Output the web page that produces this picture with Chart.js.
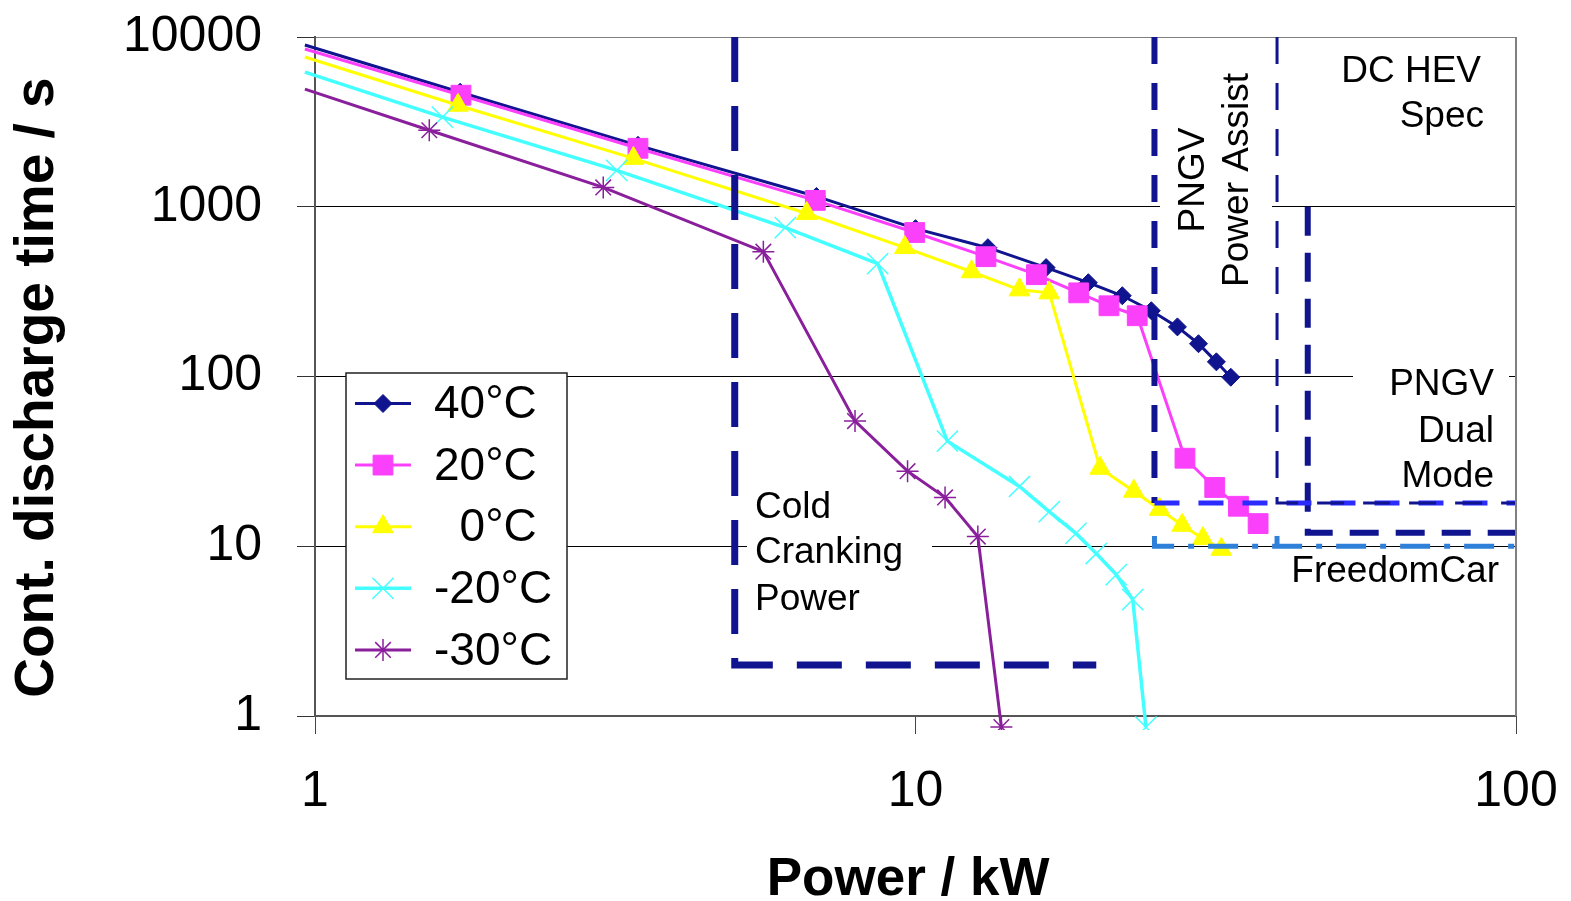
<!DOCTYPE html>
<html><head><meta charset="utf-8">
<script src="https://cdn.jsdelivr.net/npm/chart.js@4.4.1/dist/chart.umd.min.js"></script>
<style>html,body{margin:0;padding:0;background:#fff;overflow:hidden}#wrap{width:1571px;height:901px;position:relative}</style>
</head><body><div id="wrap"><canvas id="c" width="1571" height="901"></canvas></div>
<script>
// ---- data (Power kW, discharge time s) ----
const seriesLabels = ['40°C', '20°C', '  0°C', '-20°C', '-30°C'];
const p40 = [0.962, 1.745, 3.45, 6.84, 10.0, 13.2, 16.5, 19.4, 22.1, 24.7, 27.3, 29.6, 31.7, 33.5];
const t40 = [8970, 4730, 2300, 1150, 743, 574, 438, 357, 299, 244, 196, 156, 122, 99];
const p20 = [0.962, 1.75, 3.45, 6.81, 9.97, 13.1, 15.9, 18.7, 21.0, 23.4, 28.1, 31.5, 34.5, 37.2];
const t20 = [8500, 4540, 2210, 1090, 705, 508, 398, 311, 261, 228, 33, 22.2, 17.2, 13.6];
const p0 = [0.962, 1.73, 3.39, 6.59, 9.6, 12.4, 14.9, 16.7, 20.3, 23.1, 25.5, 27.8, 30.1, 32.3];
const t0 = [7620, 3965, 1928, 912, 575, 414, 324, 311, 28.8, 21.1, 16.5, 13.3, 11.1, 9.6];
const pm20 = [0.962, 1.63, 3.18, 6.07, 8.65, 11.3, 14.9, 16.7, 18.5, 20.0, 21.6, 23.0, 24.2];
const tm20 = [6210, 3370, 1637, 754, 462, 41.6, 22.5, 16.0, 11.9, 9.06, 6.8, 4.85, 0.86];
const pm30 = [0.962, 1.55, 3.02, 5.58, 7.93, 9.7, 11.2, 12.7, 13.9];
const tm30 = [4930, 2823, 1300, 544, 54.6, 27.7, 19.4, 11.4, 0.86];

// ---- specification boundaries ----
const coldCrankP = [5, 5, 20];        const coldCrankT = [10000, 2, 2];
const assistMinP = [25, 25];          const assistMinT = [10000, 18];
const assistTimeP = [25, 100];        const assistTimeT = [18, 18];
const assistMaxP = [40, 40, 100];     const assistMaxT = [10000, 18, 18];
const freedomMinP = [25, 25, 100];    const freedomMinT = [11.5, 10, 10];
const freedomMaxP = [40, 40];         const freedomMaxT = [11.5, 10];
const dualModeP = [45, 45, 100];      const dualModeT = [1000, 12, 12];

// ---- axes ----
const xTicks = [1, 10, 100];
const xTickLabels = ['1', '10', '100'];
const yTicks = [1, 10, 100, 1000, 10000];
const yTickLabels = ['1', '10', '100', '1000', '10000'];

const FONT = "'Liberation Sans', Arial, sans-serif";
const NAVY = '#10148e';
const pts = (xs, ys) => xs.map((x, i) => ({ x, y: ys[i] }));

const seriesStyle = [
  { color: '#10148e', style: 'rectRot', r: 9, bw: 1, lw: 3 },
  { color: '#fb40fb', style: 'rect', r: 14, bw: 1, lw: 3 },
  { color: '#ffff00', style: 'triangle', r: 12, bw: 1, lw: 3 },
  { color: '#44ffff', style: 'crossRot', r: 15, bw: 1.5, lw: 3.5 },
  { color: '#8a1f9c', style: 'star', r: 11, bw: 1.5, lw: 3 }
];
const seriesData = [pts(p40, t40), pts(p20, t20), pts(p0, t0), pts(pm20, tm20), pts(pm30, tm30)];
const clipBox = { left: 12, top: 0, right: 0, bottom: 14 };

const datasets = seriesData.map((d, i) => {
  const s = seriesStyle[i];
  return {
    label: seriesLabels[i], data: d, showLine: true,
    borderColor: s.color, backgroundColor: s.color, borderWidth: s.lw,
    pointStyle: s.style, pointBorderWidth: s.bw, pointBorderColor: s.color, pointBackgroundColor: s.color,
    pointRadius: ctx => (ctx.dataIndex === 0 ? 0 : s.r), pointHoverRadius: s.r,
    order: 10 - i, clip: clipBox, tension: 0
  };
});
function spec(label, xs, ys, color, width, dash) {
  return { label, data: pts(xs, ys), showLine: true, borderColor: color, borderWidth: width,
    borderDash: dash, pointRadius: 0, order: 0, clip: { left: 0, top: 0, right: 6, bottom: 0 },
    borderCapStyle: 'butt', tension: 0 };
}
datasets.push(spec('PNGV max', assistMaxP, assistMaxT, NAVY, 3, [27, 19]));
datasets.push(spec('FreedomCar min', freedomMinP, freedomMinT, '#2f80d8', 5, [30, 14, 6, 14]));
datasets.push(spec('FreedomCar max', freedomMaxP, freedomMaxT, '#2f80d8', 5, [30, 14]));
datasets.push(spec('PNGV time', assistTimeP, assistTimeT, '#2b2bff', 5, [25, 19]));
datasets.push(spec('PNGV min', assistMinP, assistMinT, NAVY, 6, [27, 19]));
datasets.push(spec('Dual mode', dualModeP, dualModeT, NAVY, 6, [29, 17]));
datasets.push(spec('Cold cranking', coldCrankP, coldCrankT, NAVY, 7, [45, 24]));

function fallbackPoint(ctx, o, x, y) {
  const r = o.radius; ctx.beginPath();
  if (o.pointStyle === 'rect') { const s = r * Math.SQRT1_2; ctx.rect(x - s, y - s, 2 * s, 2 * s); ctx.fill(); }
  else if (o.pointStyle === 'rectRot') { ctx.moveTo(x, y - r); ctx.lineTo(x + r, y); ctx.lineTo(x, y + r); ctx.lineTo(x - r, y); ctx.closePath(); ctx.fill(); }
  else if (o.pointStyle === 'triangle') { ctx.moveTo(x, y - r); ctx.lineTo(x + r * 0.866, y + r / 2); ctx.lineTo(x - r * 0.866, y + r / 2); ctx.closePath(); ctx.fill(); }
  else { const a = r * Math.SQRT1_2; ctx.moveTo(x - a, y - a); ctx.lineTo(x + a, y + a); ctx.moveTo(x + a, y - a); ctx.lineTo(x - a, y + a);
    if (o.pointStyle === 'star') { ctx.moveTo(x, y - r); ctx.lineTo(x, y + r); ctx.moveTo(x - r, y); ctx.lineTo(x + r, y); } }
  ctx.stroke();
}

const labelBoxes = [
  [747, 484, 185, 136],   // Cold cranking
  [1160, 50, 112, 250],   // PNGV power assist
  [1353, 362, 156, 150],  // PNGV dual mode
  [1263, 548, 252, 50],   // FreedomCar
  [1330, 45, 160, 100]    // DC HEV
];

const decorPlugin = {
  id: 'decor',
  beforeDatasetsDraw(chart) {
    const c = chart.ctx; c.save(); c.fillStyle = '#fff';
    labelBoxes.forEach(b => c.fillRect(b[0], b[1], b[2], b[3]));
    c.restore();
  },
  afterDatasetsDraw(chart) {
    const c = chart.ctx, a = chart.chartArea;
    c.save();
    c.strokeStyle = '#808080'; c.lineWidth = 2;
    c.beginPath(); c.moveTo(a.right, a.top); c.lineTo(a.right, a.bottom); c.stroke();
    c.fillStyle = '#000'; c.font = '37px ' + FONT; c.textBaseline = 'middle';
    c.textAlign = 'left';
    [['Cold', 508], ['Cranking', 553], ['Power', 600]].forEach(t => c.fillText(t[0], 755, t[1]));
    c.textAlign = 'right';
    c.fillText('DC HEV', 1481, 72); c.fillText('Spec', 1484, 117);
    c.fillText('PNGV', 1494, 385); c.fillText('Dual', 1494, 432); c.fillText('Mode', 1494, 477);
    c.fillText('FreedomCar', 1499, 572);
    c.save(); c.translate(1194, 180); c.rotate(-Math.PI / 2); c.textAlign = 'center';
    c.fillText('PNGV', 0, 0); c.fillText('Power Assist', 0, 44); c.restore();
    const L = { x: 346, y: 373, w: 221, h: 306 };
    c.fillStyle = '#fff'; c.fillRect(L.x, L.y, L.w, L.h);
    c.strokeStyle = '#222'; c.lineWidth = 1.5; c.strokeRect(L.x, L.y, L.w, L.h);
    c.font = '46px ' + FONT; c.textAlign = 'left'; c.textBaseline = 'middle';
    seriesStyle.forEach((s, i) => {
      const y = 403.5 + 61.6 * i;
      c.strokeStyle = s.color; c.lineWidth = s.lw;
      c.beginPath(); c.moveTo(355, y); c.lineTo(411, y); c.stroke();
      c.fillStyle = s.color; c.lineWidth = s.bw;
      const o = { pointStyle: s.style, radius: s.r, rotation: 0, borderWidth: s.bw };
      if (Chart.helpers && Chart.helpers.drawPoint) Chart.helpers.drawPoint(c, o, 383, y); else fallbackPoint(c, o, 383, y);
      c.fillStyle = '#000';
      c.fillText(seriesLabels[i], 434, y + 2);
    });
    c.restore();
  }
};

function zeroPad(ax) { ax.paddingTop = 0; ax.paddingBottom = 0; ax.paddingLeft = 0; ax.paddingRight = 0; }

new Chart(document.getElementById('c'), {
  type: 'scatter',
  data: { datasets },
  options: {
    responsive: false, animation: false, devicePixelRatio: 1,
    layout: { padding: { left: 0, top: 37, right: 55, bottom: 0 } },
    plugins: { legend: { display: false }, tooltip: { enabled: false } },
    scales: {
      x: {
        type: 'logarithmic', min: 1, max: 100,
        afterBuildTicks: ax => { ax.ticks = xTicks.map(v => ({ value: v, major: true })); },
        afterFit: ax => { ax.height = 185; zeroPad(ax); },
        ticks: { callback: v => xTickLabels[xTicks.indexOf(v)], font: { size: 50, family: FONT }, color: '#000', padding: 28, maxRotation: 0, autoSkip: false },
        grid: { drawOnChartArea: false, tickLength: 18, color: '#444', lineWidth: 1 },
        border: { display: true, color: '#555', width: 2 },
        title: { display: true, text: 'Power / kW ', font: { size: 53, weight: 'bold', family: FONT, lineHeight: 0.9 }, color: '#000', padding: { top: 0, bottom: -3 } }
      },
      y: {
        type: 'logarithmic', min: 1, max: 10000,
        afterBuildTicks: ax => { ax.ticks = yTicks.map(v => ({ value: v, major: true })); },
        afterFit: ax => { ax.width = 315; zeroPad(ax); },
        ticks: { callback: v => yTickLabels[yTicks.indexOf(v)], font: { size: 50, family: FONT }, color: '#000', padding: 35, autoSkip: false },
        grid: { color: ctx => (ctx.tick && ctx.tick.value === 10000 ? '#808080' : '#000'), lineWidth: 1, tickLength: 18, tickColor: '#333' },
        border: { display: true, color: '#555', width: 2 },
        title: { display: true, text: 'Cont. discharge time / s\u2009\u2009', font: { size: 55, weight: 'bold', family: FONT, lineHeight: 1 }, color: '#000', padding: { top: 10, bottom: 0 } }
      }
    }
  },
  plugins: [decorPlugin]
});
</script></body></html>
